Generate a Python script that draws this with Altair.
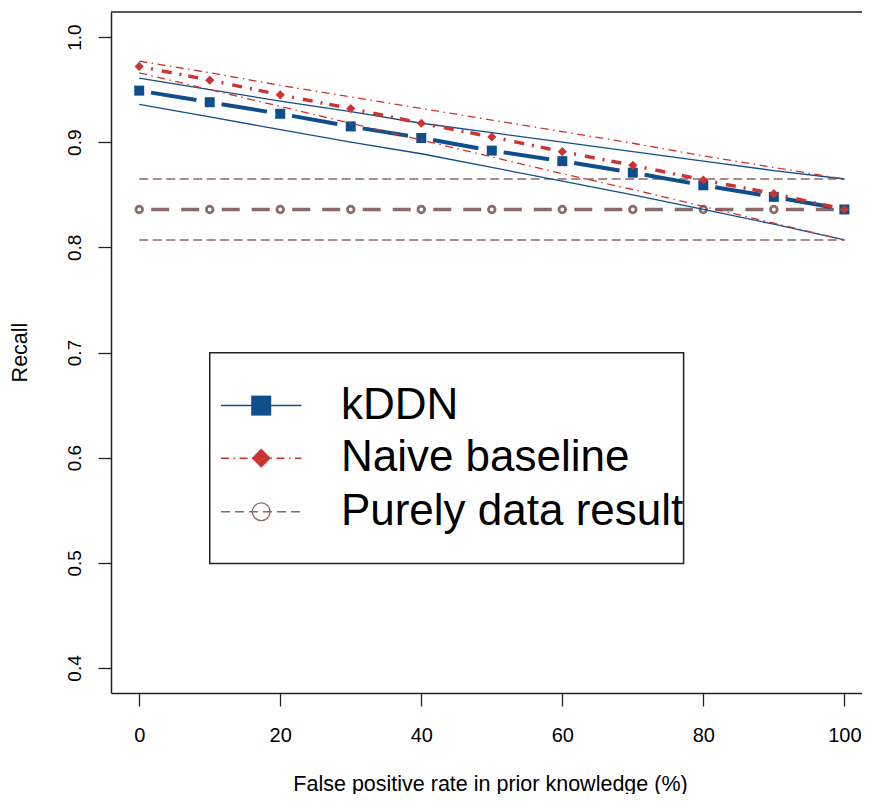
import altair as alt
import pandas as pd

# ---------------- data ----------------
fp_rate = [0, 10, 20, 30, 40, 50, 60, 70, 80, 90, 100]

kddn = [0.949, 0.938, 0.927, 0.915, 0.904, 0.892, 0.882, 0.871, 0.859, 0.848, 0.836]
kddn_upper = [0.961, 0.950, 0.939, 0.929, 0.918, 0.909, 0.900, 0.891, 0.882, 0.873, 0.865]
kddn_lower = [0.936, 0.924, 0.912, 0.900, 0.889, 0.876, 0.863, 0.850, 0.836, 0.822, 0.807]

naive = [0.972, 0.959, 0.945, 0.932, 0.918, 0.905, 0.891, 0.878, 0.864, 0.851, 0.836]
naive_upper = [0.977, 0.966, 0.954, 0.943, 0.932, 0.921, 0.910, 0.899, 0.887, 0.876, 0.865]
naive_lower = [0.966, 0.950, 0.934, 0.918, 0.902, 0.886, 0.870, 0.855, 0.839, 0.823, 0.807]

purely = [0.836, 0.836, 0.836, 0.836, 0.836, 0.836, 0.836, 0.836, 0.836, 0.836, 0.836]
purely_upper = [0.865, 0.865, 0.865, 0.865, 0.865, 0.865, 0.865, 0.865, 0.865, 0.865, 0.865]
purely_lower = [0.807, 0.807, 0.807, 0.807, 0.807, 0.807, 0.807, 0.807, 0.807, 0.807, 0.807]

legend_labels = ["kDDN", "Naive baseline", "Purely data result"]
x_ticks = [0, 20, 40, 60, 80, 100]
y_ticks = [0.4, 0.5, 0.6, 0.7, 0.8, 0.9, 1.0]

# legend placement (data coordinates, like R's legend(x, y))
legend_box_x = [10.0, 77.2]
legend_box_y = [0.4993, 0.6997]
legend_row_y = [0.6495, 0.5995, 0.5485]
legend_sym_x = [11.6, 17.3, 23.0]
legend_text_x = 28.6

BLUE = "#104E8B"
RED = "#CD3333"
BROWN = "#8B6969"
FONT = "Liberation Sans"

W, H = 751, 681
X_DOM = [-4.0, 102.5]
Y_DOM = [0.3762, 1.0238]

xscale = alt.Scale(domain=X_DOM, nice=False, zero=False)
yscale = alt.Scale(domain=Y_DOM, nice=False, zero=False)
xaxis = alt.Axis(values=x_ticks, title="False positive rate in prior knowledge (%)",
                 grid=False, tickSize=13, labelPadding=19, labelFontSize=20,
                 titleFontSize=21.5, titleX=379, titleY=91, titleBaseline="middle",
                 titleAlign="center")
yaxis = alt.Axis(values=y_ticks, format=".1f", title="Recall", grid=False, tickSize=13,
                 labelAngle=270, labelAlign="center", labelBaseline="bottom",
                 labelPadding=14, labelFontSize=19, titleFontSize=21.5,
                 titleAngle=270, titleX=-91, titleY=340, titleBaseline="middle",
                 titleAlign="center")


def xe(field="x"):
    return alt.X(f"{field}:Q", scale=xscale, axis=xaxis)


def ye(field="y"):
    return alt.Y(f"{field}:Q", scale=yscale, axis=yaxis)


def series_df(vals):
    return pd.DataFrame({"x": fp_rate, "y": vals})


def segments_df(vals):
    rows = []
    for i in range(len(fp_rate) - 1):
        rows.append({"x": fp_rate[i], "y": vals[i], "seg": i})
        rows.append({"x": fp_rate[i + 1], "y": vals[i + 1], "seg": i})
    return pd.DataFrame(rows)


def thin_line(vals, color, dash=None, width=1.3):
    kw = dict(color=color, strokeWidth=width, clip=True)
    if dash:
        kw["strokeDash"] = dash
    return alt.Chart(series_df(vals)).mark_line(**kw).encode(x=xe(), y=ye(), order="x:Q")


def seg_line(vals, color, dash, width):
    return alt.Chart(segments_df(vals)).mark_line(
        color=color, strokeWidth=width, strokeDash=dash, strokeDashOffset=-12,
        strokeCap="butt"
    ).encode(x=xe(), y=ye(), detail="seg:N", order="x:Q")


layers = []

# Purely data result
layers.append(thin_line(purely_upper, BROWN, [9, 4.5], 1.3))
layers.append(thin_line(purely_lower, BROWN, [9, 4.5], 1.3))
layers.append(seg_line(purely, BROWN, [18, 12, 18, 300], 3.4))
layers.append(alt.Chart(series_df(purely)).mark_point(
    shape="circle", filled=False, color=BROWN, strokeWidth=2.8, size=44, opacity=1
).encode(x=xe(), y=ye()))

# kDDN
layers.append(thin_line(kddn_upper, BLUE, None, 1.3))
layers.append(thin_line(kddn_lower, BLUE, None, 1.3))
layers.append(seg_line(kddn, BLUE, [46, 300], 4))
layers.append(alt.Chart(series_df(kddn)).mark_point(
    shape="square", filled=True, color=BLUE, size=100, opacity=1
).encode(x=xe(), y=ye()))

# Naive baseline
layers.append(thin_line(naive_upper, RED, [8, 4.5, 1.5, 4.5], 1.3))
layers.append(thin_line(naive_lower, RED, [8, 4.5, 1.5, 4.5], 1.3))
layers.append(seg_line(naive, RED, [2, 9, 10, 8, 2, 7, 10, 300], 3.5))
layers.append(alt.Chart(series_df(naive)).mark_point(
    shape="diamond", filled=True, color=RED, size=85, opacity=1
).encode(x=xe(), y=ye()))

# top frame line
layers.append(alt.Chart(pd.DataFrame({"y": [Y_DOM[1]]})).mark_rule(
    color="#222222", strokeWidth=1.5
).encode(y=ye(), x=alt.value(0), x2=alt.value(W)))

# ---------------- legend ----------------
box = pd.DataFrame({"x": [legend_box_x[0]], "x2": [legend_box_x[1]],
                    "y": [legend_box_y[0]], "y2": [legend_box_y[1]]})
layers.append(alt.Chart(box).mark_rect(
    fill="white", stroke="#222222", strokeWidth=1.5
).encode(x=xe("x"), x2="x2:Q", y=ye("y"), y2="y2:Q"))

leg_styles = [
    dict(color=BLUE, dash=None),
    dict(color=RED, dash=[8, 4.5, 1.5, 4.5]),
    dict(color=BROWN, dash=[9, 5]),
]
for i, st in enumerate(leg_styles):
    d = pd.DataFrame({"x": [legend_sym_x[0]], "x2": [legend_sym_x[2]], "y": [legend_row_y[i]]})
    kw = dict(color=st["color"], strokeWidth=1.5)
    if st["dash"]:
        kw["strokeDash"] = st["dash"]
    layers.append(alt.Chart(d).mark_rule(**kw).encode(x=xe("x"), x2="x2:Q", y=ye("y")))

sym = pd.DataFrame({"x": [legend_sym_x[1]], "y": [legend_row_y[0]]})
layers.append(alt.Chart(sym).mark_point(shape="square", filled=True, color=BLUE,
                                         size=400, opacity=1).encode(x=xe(), y=ye()))
sym = pd.DataFrame({"x": [legend_sym_x[1]], "y": [legend_row_y[1]]})
layers.append(alt.Chart(sym).mark_point(shape="diamond", filled=True, color=RED,
                                         size=370, opacity=1).encode(x=xe(), y=ye()))
sym = pd.DataFrame({"x": [legend_sym_x[1]], "y": [legend_row_y[2]]})
layers.append(alt.Chart(sym).mark_point(shape="circle", filled=False, color=BROWN,
                                         strokeWidth=1.3, size=314, opacity=1).encode(x=xe(), y=ye()))

txt = pd.DataFrame({"x": [legend_text_x] * 3, "y": legend_row_y, "label": legend_labels})
layers.append(alt.Chart(txt).mark_text(
    align="left", baseline="middle", fontSize=44, font=FONT, color="black"
).encode(x=xe(), y=ye(), text="label:N"))

chart = alt.layer(*layers).properties(
    width=W, height=H,
    autosize=alt.AutoSizeParams(type="none"),
    padding={"left": 103, "top": 4, "right": 0, "bottom": 101},
).configure_view(stroke=None).configure_axis(
    labelFont=FONT, titleFont=FONT, labelColor="black", titleColor="black",
    titleFontWeight="normal", domainColor="#222222", domainWidth=1.5,
    tickColor="#222222", tickWidth=1.3,
)

chart.save("out.html", embed_options={"renderer": "svg", "actions": False})
